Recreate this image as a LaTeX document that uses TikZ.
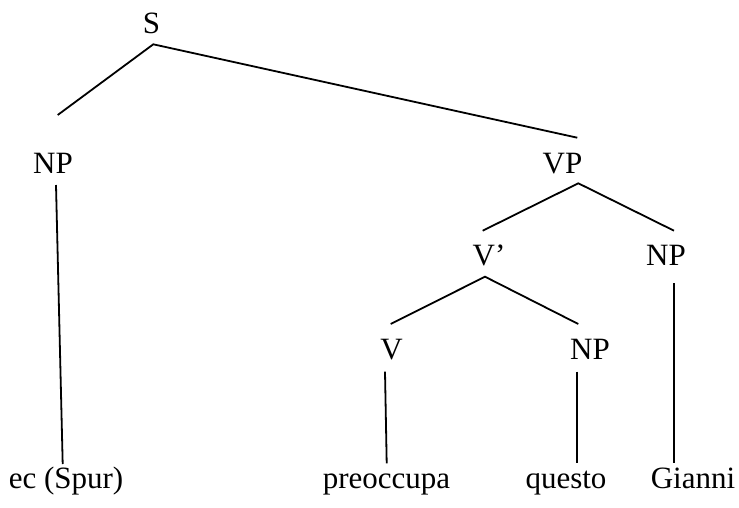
\documentclass[tikz,border=0pt]{standalone}
\usepackage{fontspec}
\setmainfont{Liberation Serif}
\begin{document}
\begin{tikzpicture}[x=1pt,y=-1pt,
  lbl/.style={anchor=base,inner sep=0pt,font=\fontsize{31}{36}\selectfont},
  edge/.style={draw=black,line width=1.8pt}]
\useasboundingbox (0,0) rectangle (739,507);
% labels
\node[lbl] (S) at (151.5,33) {S};
\node[lbl] (NPs) at (53,173) {NP};
\node[lbl] (VP) at (562.5,173) {VP};
\node[lbl] (Vbar) at (489,265.5) {V’};
\node[lbl] (NPo) at (666,265.5) {NP};
\node[lbl] (V) at (391.5,359) {V};
\node[lbl] (NPq) at (590,359) {NP};
\node[lbl] (ec) at (66,488) {ec (Spur)};
\node[lbl] (pre) at (386.5,488) {preoccupa};
\node[lbl] (que) at (566,488) {questo};
\node[lbl] (gia) at (693,488) {Gianni};
% connector ends
\coordinate (Sb) at (153.3,44.3);
\coordinate (NPst) at (57.7,115);
\coordinate (VPt) at (577.3,137.7);
\coordinate (NPsb) at (56,185);
\coordinate (ect) at (62.7,464);
\coordinate (VPb) at (578.3,183.3);
\coordinate (Vbart) at (482.7,230.7);
\coordinate (NPot) at (674,230.7);
\coordinate (Vbarb) at (485,276.7);
\coordinate (Vt) at (390.7,324);
\coordinate (NPqt) at (578.3,324);
\coordinate (Vb) at (385,371.7);
\coordinate (pret) at (386.7,463.3);
\coordinate (NPqb) at (577.3,371.7);
\coordinate (quet) at (577.3,463.3);
\coordinate (NPob) at (674,283.3);
\coordinate (giat) at (674,463.3);
% connectors
\draw[edge] (NPst) -- (Sb) -- (VPt);
\draw[edge] (NPsb) -- (ect);
\draw[edge] (Vbart) -- (VPb) -- (NPot);
\draw[edge] (Vt) -- (Vbarb) -- (NPqt);
\draw[edge] (Vb) -- (pret);
\draw[edge] (NPqb) -- (quet);
\draw[edge] (NPob) -- (giat);
\end{tikzpicture}
\end{document}
